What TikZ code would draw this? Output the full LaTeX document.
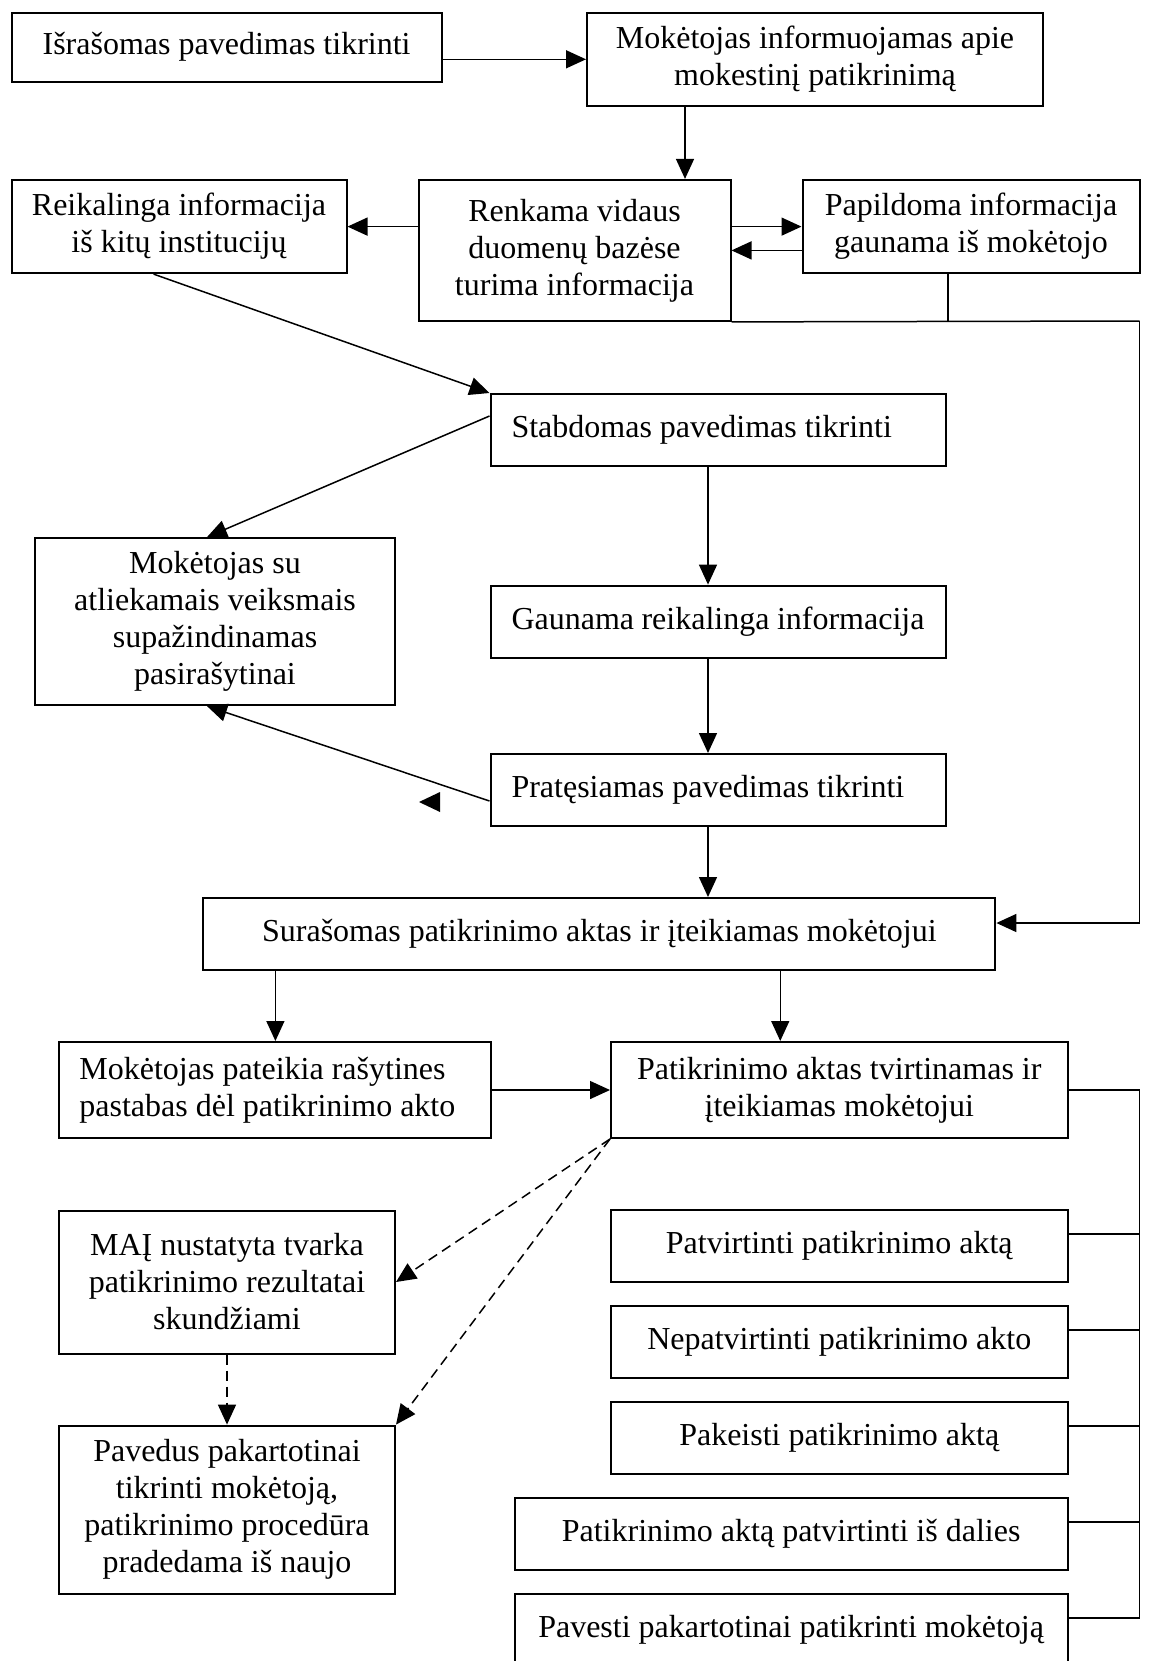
\documentclass[tikz,border=0pt]{standalone}
\usepackage{fontspec}
\setmainfont{Liberation Serif}
\usepackage{xcolor}
\usepackage{tikz}
\usetikzlibrary{arrows.meta}

\begin{document}
\begin{tikzpicture}[x=0.5pt,y=-0.5pt,font=\fontsize{16}{18.5}\selectfont]
			\tikzstyle{block} = [draw, line width=1pt, align=center, inner sep=0pt]
			\tikzstyle{lblock} = [block, align=flush left, inner xsep=10.5pt, text width=206.5pt]
			\tikzstyle{option} = [block, minimum height=36pt]
			\tikzset{flow/.style = {line width=0.75pt, -{Triangle[length=10pt,width=9pt]}}}
			\tikzset{dflow/.style = {flow, dash pattern=on 5pt off 3pt}}
			
			\useasboundingbox (0,0) rectangle (1149,1661);
			
			\node[block, minimum width=215pt, minimum height=34.5pt](task) at (226.6,47) {Išrašomas pavedimas tikrinti};
			\node[block, minimum width=228pt, minimum height=46.5pt](inform) at (815,59.3) {Mokėtojas informuojamas apie\\mokestinį patikrinimą};
			\node[block, minimum width=167.5pt, minimum height=46.5pt](external) at (179,226.6) {Reikalinga informacija\\iš kitų institucijų};
			\node[block, minimum width=156pt, minimum height=70.5pt](internal) at (574.5,250.4) {Renkama vidaus\\duomenų bazėse\\turima informacija};
			\node[block, minimum width=168.5pt, minimum height=46.5pt](extra) at (971,226.6) {Papildoma informacija\\gaunama iš mokėtojo};
			\node[lblock, minimum height=36pt](suspend) at (718,430) {Stabdomas pavedimas tikrinti};
			\node[block, minimum width=180pt, minimum height=83.5pt](sign) at (215,621.6) {Mokėtojas su\\atliekamais veiksmais\\supažindinamas\\pasirašytinai};
			\node[lblock, minimum height=36pt](receive) at (718,621.6) {Gaunama reikalinga informacija};
			\node[lblock, minimum height=36pt](extend) at (718,790) {Pratęsiamas pavedimas tikrinti};
			\node[block, minimum width=396pt, minimum height=36pt](report) at (599.4,934) {Surašomas patikrinimo aktas ir įteikiamas mokėtojui};
			\node[block, align=flush left, inner xsep=10pt, text width=196pt, minimum height=48pt](remarks) at (275.4,1090) {Mokėtojas pateikia rašytines\\pastabas dėl patikrinimo akto};
			\node[block, minimum width=228.25pt, minimum height=48pt](approve) at (839.25,1090) {Patikrinimo aktas tvirtinamas ir\\įteikiamas mokėtojui};
			\node[block, minimum width=168pt, minimum height=71.5pt](appeal) at (227,1282) {MAĮ nustatyta tvarka\\patikrinimo rezultatai\\skundžiami};
			\node[block, minimum width=168pt, minimum height=84pt](repeat) at (227,1509.6) {Pavedus pakartotinai\\tikrinti mokėtoją,\\patikrinimo procedūra\\pradedama iš naujo};
			\node[option, minimum width=228.25pt](opt1) at (839.25,1246) {Patvirtinti patikrinimo aktą};
			\node[option, minimum width=228.25pt](opt2) at (839.25,1342) {Nepatvirtinti patikrinimo akto};
			\node[option, minimum width=228.25pt](opt3) at (839.25,1438) {Pakeisti patikrinimo aktą};
			\node[option, minimum width=276.4pt](opt4) at (791.1,1534) {Patikrinimo aktą patvirtinti iš dalies};
			\node[option, minimum width=276.4pt](opt5) at (791.1,1630) {Pavesti pakartotinai patikrinti mokėtoją};
			
			\draw[flow](task.east |- inform.west) to (inform.west);
			\draw[flow]([xshift=-65pt]inform.south) to ([xshift=-65pt]inform.south |- internal.north);
			\draw[flow](internal.west |- external.east) to (external.east);
			\draw[flow](internal.east |- extra.west) to (extra.west);
			\draw[flow](extra.west |- internal.east) to (internal.east);
			\draw[flow]([xshift=-12.7pt]external.south) to (suspend.north west);
			\draw[flow]([yshift=7pt]suspend.west) to ([xshift=-4pt]sign.north);
			\draw[flow]([xshift=-5pt]suspend.south) to ([xshift=-5pt]receive.north);
			\draw[flow]([xshift=-5pt]receive.south) to ([xshift=-5pt]extend.north);
			\draw[flow]([yshift=-5.5pt]extend.west) to ([xshift=-4pt]sign.south);
			\fill (440,792) -- (419,802) -- (440,812) -- cycle;
			\draw[flow]([xshift=-5pt]extend.south) to ([xshift=-5pt]extend.south |- report.north);
			
			\coordinate (rim) at (1139.5,321);
			\draw[line width=0.75pt](internal.south east) to (rim);
			\draw[line width=0.75pt]([xshift=-11.5pt]extra.south) to ([xshift=-11.5pt]extra.south |- rim);
			\draw[flow](rim) |- ([yshift=5.5pt]report.east);
			
			\draw[flow](remarks.north |- report.south) to (remarks.north);
			\draw[flow]([xshift=-29.5pt]approve.north |- report.south) to ([xshift=-29.5pt]approve.north);
			\draw[flow](remarks.east) to (approve.west);
			\draw[dflow](approve.south west) to (appeal.east);
			\draw[dflow](approve.south west) to (repeat.north east);
			\draw[dflow](appeal.south) to (repeat.north);
			
			\coordinate (rail) at (1139.5,1090);
			\foreach \i in {1,...,5}
				\coordinate (s\i) at ([yshift=6pt]opt\i.east);
			\draw[line width=0.75pt](approve.east) to (rail) to (rail |- s5) to (s5);
			\foreach \i in {1,...,4}
				\draw[line width=0.75pt](s\i) to (rail |- s\i);
			
\end{tikzpicture}
\end{document}
